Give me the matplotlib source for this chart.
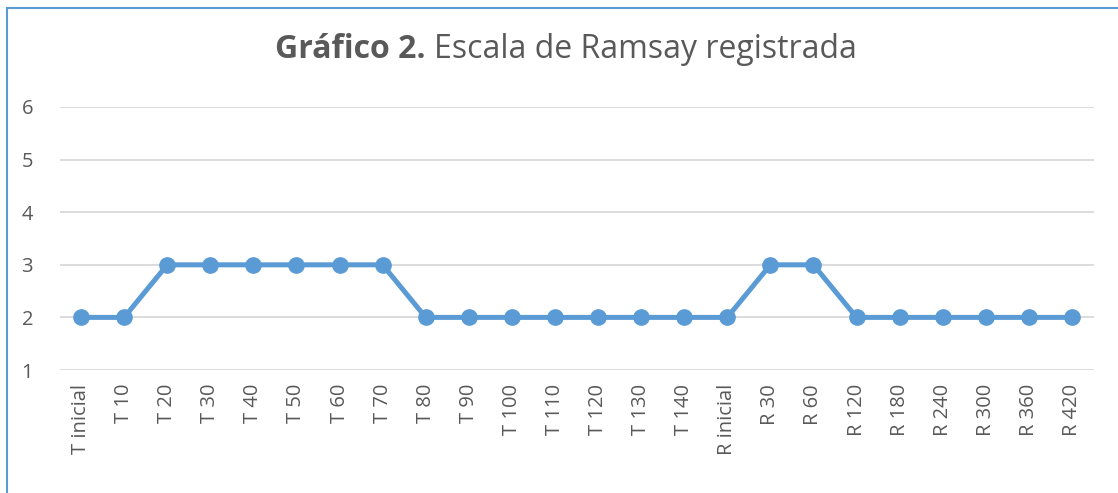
import matplotlib
matplotlib.use("Agg")
import matplotlib.pyplot as plt
from matplotlib.patches import Rectangle

# Categories (time points) and the Ramsay score registered at each one
categorias = ["T inicial", "T 10", "T 20", "T 30", "T 40", "T 50", "T 60", "T 70",
              "T 80", "T 90", "T 100", "T 110", "T 120", "T 130", "T 140",
              "R inicial", "R 30", "R 60", "R 120", "R 180", "R 240", "R 300",
              "R 360", "R 420"]
ramsay = [2, 2, 3, 3, 3, 3, 3, 3, 2, 2, 2, 2, 2, 2, 2, 2, 3, 3, 2, 2, 2, 2, 2, 2]
y_ticks = [1, 2, 3, 4, 5, 6]

plt.rcParams["font.family"] = ["Open Sans", "DejaVu Sans"]
texto = "#595959"
azul = "#5B9BD5"
W, H = 1118, 493

fig = plt.figure(figsize=(W / 100, H / 100), dpi=100)
ax = fig.add_axes([59.5 / W, 1 - 370 / H, 1034 / W, 263 / H])

x = list(range(len(categorias)))
ax.plot(x, ramsay, color=azul, linewidth=3.6, marker="o", markersize=11,
        solid_joinstyle="round", zorder=3)

ax.set_xlim(-0.5, len(categorias) - 0.5)
ax.set_ylim(1, 6)
ax.set_yticks(y_ticks)
ax.set_xticks(x)
ax.set_xticklabels(categorias, rotation=90)
ax.grid(axis="y", color="#D9D9D9", linewidth=1.3)
ax.set_axisbelow(True)
for s in ax.spines.values():
    s.set_visible(False)
ax.tick_params(length=0, labelsize=14.5, labelcolor=texto)
ax.tick_params(axis="y", pad=19)
ax.tick_params(axis="x", pad=10)

# chart title: bold part + normal part, centred as a whole
ty = 1 - 50 / H
t1 = fig.text(0, ty, "Gráfico 2.", ha="left", va="center",
              fontsize=23, fontweight="bold", color=texto)
t2 = fig.text(0, ty, "Escala de Ramsay registrada", ha="left", va="center",
              fontsize=23, color=texto)
fig.canvas.draw()
w1 = t1.get_window_extent().width
w2 = t2.get_window_extent().width
gap = 8
x0 = 566 - (w1 + gap + w2) / 2
t1.set_x(x0 / W)
t2.set_x((x0 + w1 + gap) / W)

# chart frame (only left and top edges are visible in the crop)
fig.patches.append(Rectangle((7 / W, -0.1), 1.2, 1 - 8 / H + 0.1,
                             transform=fig.transFigure, fill=False,
                             edgecolor=azul, linewidth=1.5))

fig.savefig("out.png", dpi=100)
